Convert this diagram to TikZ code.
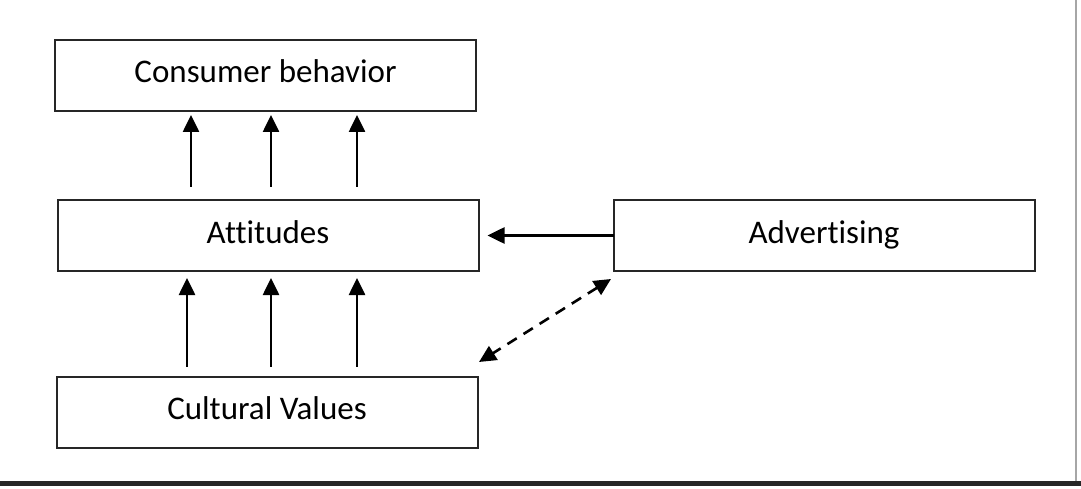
\documentclass[tikz,border=0pt]{standalone}
\usepackage{fontspec}
\setmainfont[Ligatures=NoCommon]{Carlito}
\usetikzlibrary{arrows.meta}
\begin{document}
\begin{tikzpicture}[x=1pt,y=-1pt,
  box/.style={draw=black!85, line width=2pt, minimum width=421pt, minimum height=71pt, inner sep=0pt, outer sep=0pt, text height=22pt, text depth=7pt, font=\fontsize{33}{39}\selectfont},
  arr/.style={line width=2.6pt, -{Triangle[length=17pt,width=16pt]}},
  darr/.style={line width=2.6pt, dash pattern=on 11pt off 8pt, {Triangle[length=17pt,width=16pt]}-{Triangle[length=17pt,width=16pt]}}]
\useasboundingbox (0,0) rectangle (1081,489);
\fill[white] (0,0) rectangle (1081,489);
\node[box] (cb) at (265.5,75.5) {Consumer behavior};
\node[box] (att) at (268,235.5) {Attitudes};
\node[box] (adv) at (824,235.5) {Advertising};
\node[box] (cv) at (267,412) {Cultural Values};
\foreach \x in {191,271,357}
  \draw[arr, shorten <=13pt, shorten >=4pt] (att.north -| \x,0) -- (cb.south -| \x,0);
\foreach \x in {187,271,357}
  \draw[arr, shorten <=10pt, shorten >=7pt] (cv.north -| \x,0) -- (att.south -| \x,0);
\draw[arr, shorten >=9pt] (adv.west) -- (att.east);
\coordinate (d1) at (611,279);
\coordinate (d2) at (479,362);
\draw[darr] (d1) -- (d2);
\coordinate (r1) at (1076,0);
\coordinate (r2) at (1076,481);
\draw[black!35, line width=1.2pt] (r1) -- (r2);
\coordinate (b1) at (0,483.5);
\coordinate (b2) at (1081,483.5);
\draw[black!85, line width=4.5pt] (b1) -- (b2);
\end{tikzpicture}
\end{document}
